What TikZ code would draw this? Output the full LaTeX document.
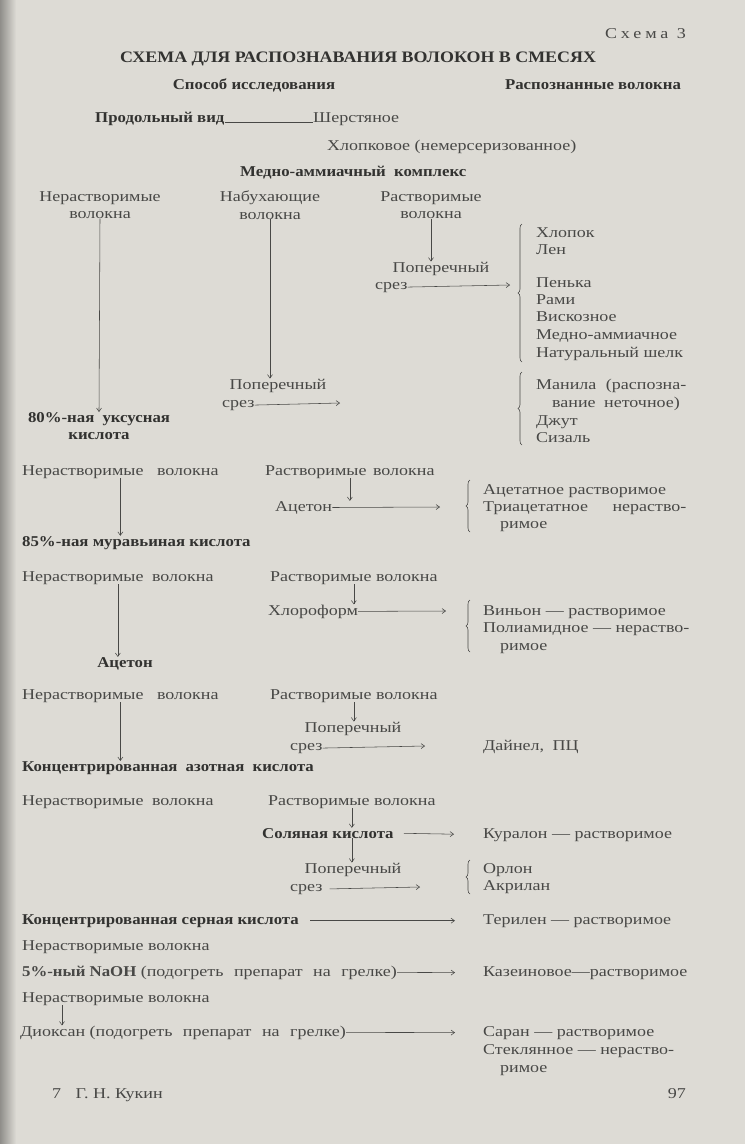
\documentclass[tikz,border=0pt]{standalone}
\usepackage{fontspec}
\setmainfont[FakeStretch=1.2]{Liberation Serif}
\newfontfamily\boldface[FakeStretch=1.12]{Liberation Serif Bold}
\definecolor{paper}{RGB}{221, 219, 213}
\definecolor{ink}{RGB}{72, 72, 70}
\definecolor{darkink}{RGB}{50, 50, 48}
\usetikzlibrary{arrows.meta, positioning, decorations.pathreplacing}
\newcommand{\fsz}{\fontsize{15}{17.2}\selectfont}

\begin{document}
\begin{tikzpicture}[
    x=1pt, y=-1pt,
    txt/.style={inner sep=0pt, font=\fsz, text=ink, anchor=base west},
    btxt/.style={txt, font=\fsz\boldface, text=darkink},
    col/.style={txt, align=center, anchor=north},
    arr/.style={-{Straight Barb[length=3.5pt, width=5pt]}, line width=0.55pt, draw=ink},
    brc/.style={decorate, decoration={brace, amplitude=4pt}, line width=0.6pt, draw=ink}
  ]
    \useasboundingbox (0,0) rectangle (745,1144);
    \fill[paper] (0,0) rectangle (745,1144);
    \shade[left color=black!35!paper, right color=paper] (0,0) rectangle (16,1144);

    % header
    \node[txt, anchor=base east] (scheme) at (686,38) {\addfontfeature{LetterSpace=26}Схема 3};
    \node[btxt, anchor=base, font=\fontsize{16}{18}\selectfont\boldface] (title) at (358,62) {СХЕМА ДЛЯ РАСПОЗНАВАНИЯ ВОЛОКОН В СМЕСЯХ};
    \node[btxt, anchor=base] (method) at (254,89) {Способ исследования};
    \node[btxt, anchor=base] (found) at (593,89) {Распознанные волокна};

    \node[btxt] (longv) at (95,122) {Продольный вид};
    \node[txt] (wool) at (313,122) {Шерстяное};
    \node[txt] (cotton) at (327,150) {Хлопковое (немерсеризованное)};
    \draw[line width=0.55pt, draw=ink] (longv.base east) -- (wool.base west);
    \node[btxt] (cuam) at (240,176) {Медно-аммиачный\hspace{4pt} комплекс};

    % copper-ammonia branch
    \node[col] (ins1) at (100,191) {Нерастворимые\\волокна};
    \node[col] (swell) at (270,191) {Набухающие\\волокна};
    \node[col] (sol1) at (431,191) {Растворимые\\волокна};
    \node[txt, anchor=base] (cross1) at (441,272) {Поперечный};
    \node[txt] (cut1) at (375,289) {срез};
    \coordinate (tip1) at (510,285);
    \draw[arr] (sol1.south) -- (sol1.south |- cross1.north);
    \draw[arr] (cut1.east) -- (tip1);

    \draw[brc] (522,362) -- (522,224);
    \node[txt] (f1) at (536,237) {Хлопок};
    \node[txt] (f2) at (536,254) {Лен};
    \node[txt] (f3) at (536,287) {Пенька};
    \node[txt] (f4) at (536,304) {Рами};
    \node[txt] (f5) at (536,321) {Вискозное};
    \node[txt] (f6) at (536,339) {Медно-аммиачное};
    \node[txt] (f7) at (536,357) {Натуральный шелк};

    \node[txt, anchor=base] (cross2) at (278,389) {Поперечный};
    \node[txt] (cut2) at (222,407) {срез};
    \coordinate (tip2) at (340,403);
    \draw[arr] (swell.south) -- (swell.south |- cross2.north);
    \draw[arr] (cut2.east) -- (tip2);

    \draw[brc] (522,445) -- (522,372);
    \node[txt] (g1) at (536,389) {Манила\hspace{5pt} (распозна-};
    \node[txt] (g2) at (552,407) {вание\hspace{4pt} неточное)};
    \node[txt] (g3) at (536,425) {Джут};
    \node[txt] (g4) at (536,442) {Сизаль};

    \node[btxt, col, text=darkink, font=\fsz\boldface] (acid80) at (99,412) {80\%-ная\hspace{4pt} уксусная\\кислота};
    \draw[arr] (ins1.south) -- (acid80.north);

    % acetone
    \node[txt] (ins2) at (22,475) {Нерастворимые\hspace{9pt} волокна};
    \node[txt] (sol2) at (265,475) {Растворимые\hspace{2pt} волокна};
    \node[txt] (acet1) at (275,511) {Ацетон};
    \coordinate (tip3) at (440,507);
    \draw[arr] (sol2.south) -- (sol2.south |- acet1.north);
    \draw[arr] (acet1.east) -- (tip3);
    \draw[brc] (470,532) -- (470,480);
    \node[txt] (h1) at (483,494) {Ацетатное растворимое};
    \node[txt] (h2) at (483,511) {Триацетатное\hspace{20pt} нераство-};
    \node[txt] (h3) at (500,528) {римое};
    \node[btxt] (acid85) at (22,546) {85\%-ная муравьиная кислота};
    \draw[arr] (ins2.south) -- (ins2.south |- acid85.north);

    % chloroform
    \node[txt] (ins3) at (22,581) {Нерастворимые\hspace{4pt} волокна};
    \node[txt] (sol3) at (270,581) {Растворимые волокна};
    \node[txt] (chlor) at (268,615) {Хлороформ};
    \coordinate (tip4) at (446,611);
    \draw[arr] (sol3.south) -- (sol3.south |- chlor.north);
    \draw[arr] (chlor.east) -- (tip4);
    \draw[brc] (470,652) -- (470,600);
    \node[txt] (k1) at (483,615) {Виньон — растворимое};
    \node[txt] (k2) at (483,632) {Полиамидное — нераство-};
    \node[txt] (k3) at (500,650) {римое};
    \node[btxt, anchor=base] (acet2) at (125,667) {Ацетон};
    \draw[arr] (ins3.south) -- (ins3.south |- acet2.north);

    % cross-section
    \node[txt] (ins4) at (22,699) {Нерастворимые\hspace{9pt} волокна};
    \node[txt] (sol4) at (270,699) {Растворимые волокна};
    \node[txt, anchor=base] (cross4) at (353,732) {Поперечный};
    \node[txt] (cut4) at (290,750) {срез};
    \node[txt] (dynel) at (483,750) {Дайнел,\hspace{4pt} ПЦ};
    \coordinate (tip5) at (425,746);
    \draw[arr] (sol4.south) -- (sol4.south |- cross4.north);
    \draw[arr] (cut4.east) -- (tip5);
    \node[btxt] (nitric) at (22,771) {Концентрированная\hspace{4pt} азотная\hspace{4pt} кислота};
    \draw[arr] (ins4.south) -- (ins4.south |- nitric.north);

    % hydrochloric acid
    \node[txt] (ins5) at (22,805) {Нерастворимые\hspace{4pt} волокна};
    \node[txt] (sol5) at (268,805) {Растворимые волокна};
    \node[btxt] (hcl) at (262,838) {Соляная кислота};
    \node[txt] (kural) at (483,838) {Куралон — растворимое};
    \draw[arr] (sol5.south) -- (sol5.south |- hcl.north);
    \draw[arr, shorten <=10pt, shorten >=29pt] (hcl.east) -- (kural.west);
    \node[txt, anchor=base] (cross5) at (353,873) {Поперечный};
    \node[txt] (cut5) at (290,891) {срез};
    \coordinate (tip6) at (420,887);
    \draw[arr] (sol5.south |- hcl.south) -- (sol5.south |- cross5.north);
    \draw[arr, shorten <=7pt] (cut5.east) -- (tip6);
    \draw[brc] (470,894) -- (470,860);
    \node[txt] (m1) at (483,873) {Орлон};
    \node[txt] (m2) at (483,890) {Акрилан};

    % sulfuric acid, NaOH, dioxane
    \node[btxt] (sulf) at (22,924) {Концентрированная серная кислота};
    \node[txt] (teril) at (483,924) {Терилен — растворимое};
    \draw[arr, shorten <=11pt, shorten >=28pt] (sulf.east) -- (teril.west);
    \node[txt] (ins6) at (22,950) {Нерастворимые волокна};
    \node[txt] (naoh) at (22,976) {{\boldface 5\%-ный NaOH} (подогреть\hspace{6pt} препарат\hspace{6pt} на\hspace{6pt} грелке)};
    \node[txt] (kasein) at (483,976) {Казеиновое—растворимое};
    \draw[arr, shorten >=28pt] (naoh.east) -- (kasein.west);
    \node[txt] (ins7) at (22,1002) {Нерастворимые волокна};
    \node[txt] (dioxan) at (20,1036) {Диоксан (подогреть\hspace{6pt} препарат\hspace{6pt} на\hspace{6pt} грелке)};
    \draw[arr] ([xshift=40pt]ins7.south west) -- ([xshift=42pt]dioxan.north west);
    \node[txt] (saran) at (483,1036) {Саран — растворимое};
    \node[txt] (n2) at (483,1054) {Стеклянное — нераство-};
    \node[txt] (n3) at (500,1072) {римое};
    \draw[arr, shorten >=28pt] (dioxan.east) -- (saran.west);

    % footer
    \node[txt] (author) at (52,1098) {7\hspace{10pt} Г. Н. Кукин};
    \node[txt, anchor=base east] (page) at (686,1098) {97};
  \end{tikzpicture}
\end{document}
